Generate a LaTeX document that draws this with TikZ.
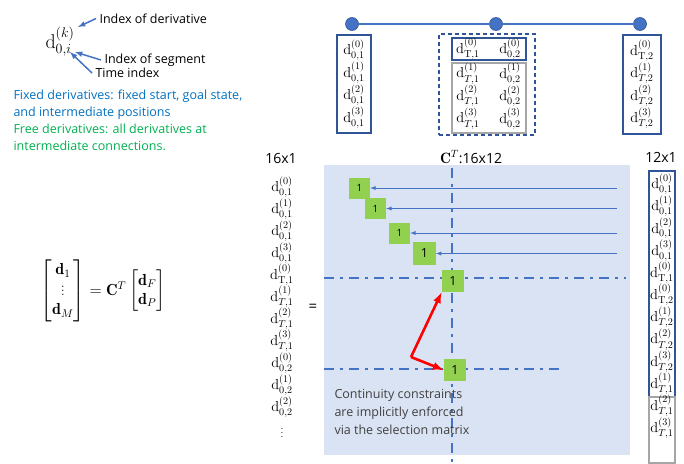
\RequirePackage{fix-cm}
\documentclass[tikz,border=0pt]{standalone}
\usepackage{amsmath}
\usepackage{fontspec}
\newfontfamily\uisans{Open Sans}

\definecolor{lineblue}{HTML}{4472C4}
\definecolor{boxblue}{HTML}{2F5597}
\definecolor{fixblue}{HTML}{0070C0}
\definecolor{freegreen}{HTML}{00B050}
\definecolor{onegreen}{HTML}{92D050}
\definecolor{matbg}{HTML}{DAE3F3}
\definecolor{notegray}{HTML}{404040}

\newcommand{\dvar}[3]{$\mathrm{d}^{(#1)}_{#2,#3}$}

\tikzset{
  txt/.style={font=\uisans\fontsize{12.5}{17}\selectfont},
  dlab/.style={inner sep=0pt, font=\fontsize{14.5}{16}\selectfont},
  dstack/.style={inner sep=0pt, align=center, font=\fontsize{14.5}{22.5}\selectfont},
  colbox/.style={draw=boxblue, line width=1.1pt},
  graybox/.style={draw=gray!70, line width=1.1pt},
  waypoint/.style={circle, fill=lineblue, draw=boxblue, line width=0.6pt, minimum size=13pt, inner sep=0pt},
  one/.style={fill=onegreen, minimum size=21pt, inner sep=0pt, font=\uisans\fontsize{10}{12}\selectfont},
  bigone/.style={one, minimum size=22.5pt, font=\uisans\fontsize{12.5}{14}\selectfont},
  ptr/.style={->, lineblue, line width=1.5pt},
  selarrow/.style={->, lineblue, line width=0.9pt},
  redarrow/.style={->, red, line width=2.6pt},
  dashdot/.style={lineblue, line width=2.5pt, dash pattern=on 10pt off 6pt on 3pt off 6pt}
}

\begin{document}
\begin{tikzpicture}[x=1pt, y=-1pt, >=latex]
  \useasboundingbox (0,0) rectangle (684,463);

  % Notation
  \node (dk) at (60,42) {\fontsize{20}{22}\selectfont\dvar{k}{0}{i}};
  \node[txt, anchor=west] (iderv) at (96,18.5) {Index of derivative};
  \node[txt, anchor=west] (iseg) at (101,60) {Index of segment};
  \node[txt, anchor=west] (itime) at (92,73) {Time index};
  \coordinate (supk) at (78,27);
  \coordinate (subi) at (75,52);
  \coordinate (subo) at (70,52);
  \draw[ptr] (iderv.west) -- (supk);
  \draw[ptr] (iseg.west) -- (subi);
  \draw[ptr] (itime.west) -- (subo);
  \node[txt, text=fixblue, anchor=north west, align=left] (fixed) at (10,86)
    {Fixed derivatives: fixed start, goal state,\\and intermediate positions};
  \node[txt, text=freegreen, anchor=north west, align=left] (free) at (10,120)
    {Free derivatives: all derivatives at\\intermediate connections.};

  % Trajectory with two segments
  \node[waypoint] (wp1) at (352,24) {};
  \node[waypoint] (wp2) at (496,24) {};
  \node[waypoint] (wp3) at (640,24) {};
  \draw[lineblue, line width=1.3pt] (wp1) -- (wp2) -- (wp3);
  \node[colbox, dstack, minimum width=34pt, minimum height=98pt] (seg1) at (354,84)
    {\dvar{0}{0}{1}\\ \dvar{1}{0}{1}\\ \dvar{2}{0}{1}\\ \dvar{3}{0}{1}};
  \node[colbox, dstack, minimum width=38pt, minimum height=99pt] (seg2) at (642,84.5)
    {\dvar{0}{\mathrm{T}}{2}\\ \dvar{1}{T}{2}\\ \dvar{2}{T}{2}\\ \dvar{3}{T}{2}};
  \node[draw=boxblue, line width=1.1pt, dash pattern=on 4pt off 3pt, minimum width=96pt, minimum height=101pt] (joint) at (487,84.5) {};
  \node[colbox, minimum width=74pt, minimum height=22pt] (jfix) at (489,49) {};
  \node[graybox, minimum width=74pt, minimum height=70pt] (jfree) at (489,98) {};
  \node[dlab] (jend) at (468,49) {\dvar{0}{\mathrm{T}}{1}};
  \node[dlab] (jstart) at (510,49) {\dvar{0}{0}{2}};
  \node[dstack] (jendd) at (468,96) {\dvar{1}{T}{1}\\ \dvar{2}{T}{1}\\ \dvar{3}{T}{1}};
  \node[dstack] (jstartd) at (510,96) {\dvar{1}{0}{2}\\ \dvar{2}{0}{2}\\ \dvar{3}{0}{2}};

  % Equation
  \node (eqn) at (103,291) {\fontsize{16}{19}\selectfont
    $\begin{bmatrix}\mathbf{d}_1\\ \vdots\\ \mathbf{d}_M\end{bmatrix}=\mathbf{C}^T\begin{bmatrix}\mathbf{d}_F\\ \mathbf{d}_P\end{bmatrix}$};

  % 16x1 vector
  \node[txt, font=\uisans\fontsize{14}{16}\selectfont] (lsize) at (281,158) {16x1};
  \foreach \k/\t/\s [count=\i] in {0/0/1,1/0/1,2/0/1,3/0/1,0/\mathrm{T}/1,1/T/1,2/T/1,3/T/1,0/0/2,1/0/2,2/0/2}
    \node[dlab] (lcol\i) at (282,{187+22*(\i-1)}) {\dvar{\k}{\t}{\s}};
  \node[inner sep=0pt] (lvdots) at (282,430) {$\vdots$};
  \node[txt, font=\uisans\fontsize{15}{17}\selectfont] (equal) at (313,308) {=};

  % Selection matrix
  \fill[matbg] (324,165) rectangle (630,455);
  \node[txt, font=\uisans\fontsize{14}{16}\selectfont] (csize) at (471,157) {\fontsize{15}{17}\selectfont$\mathbf{C}^T$\uisans\fontsize{14}{16}\selectfont:16x12};
  \draw[dashdot] (452,168) -- (452,463);
  \draw[dashdot] (324,278) -- (626,278);
  \draw[dashdot] (324,369) -- (562,369);
  \node[one] (one1) at (359.5,188) {1};
  \node[one] (one2) at (375.5,208.5) {1};
  \node[one] (one3) at (399.5,233) {1};
  \node[bigone] (one4) at (424.5,253.5) {1};
  \node[bigone] (one5) at (453,281) {1};
  \node[bigone] (one6) at (455,370) {1};
  \coordinate (src1) at (617,188);
  \coordinate (src2) at (617,208.5);
  \coordinate (src3) at (617,233);
  \coordinate (src4) at (617,253.5);
  \draw[selarrow] (src1) -- (one1.east);
  \draw[selarrow] (src2) -- (one2.east);
  \draw[selarrow] (src3) -- (one3.east);
  \draw[selarrow] (src4) -- (one4.east);
  \coordinate (kink) at (411,357);
  \draw[redarrow] (kink) -- (one5.south west);
  \draw[redarrow] (kink) -- (one6.west);
  \node[txt, text=notegray, anchor=north west, align=left, font=\uisans\fontsize{12.5}{18}\selectfont] (note) at (331,386)
    {Continuity constraints\\are implicitly enforced\\via the selection matrix};

  % 12x1 vector
  \node[txt, font=\uisans\fontsize{14}{16}\selectfont] (rsize) at (661,157) {12x1};
  \draw[colbox] (649,171) rectangle (675,397);
  \draw[graybox] (649,397) rectangle (675,463);
  \foreach \k/\t/\s [count=\i] in {0/0/1,1/0/1,2/0/1,3/0/1,0/\mathrm{T}/1,0/\mathrm{T}/2,1/T/2,2/T/2,3/T/2,1/T/1,2/T/1,3/T/1}
    \node[dlab] (rcol\i) at (662,{184+22.2*(\i-1)}) {\dvar{\k}{\t}{\s}};
\end{tikzpicture}
\end{document}
